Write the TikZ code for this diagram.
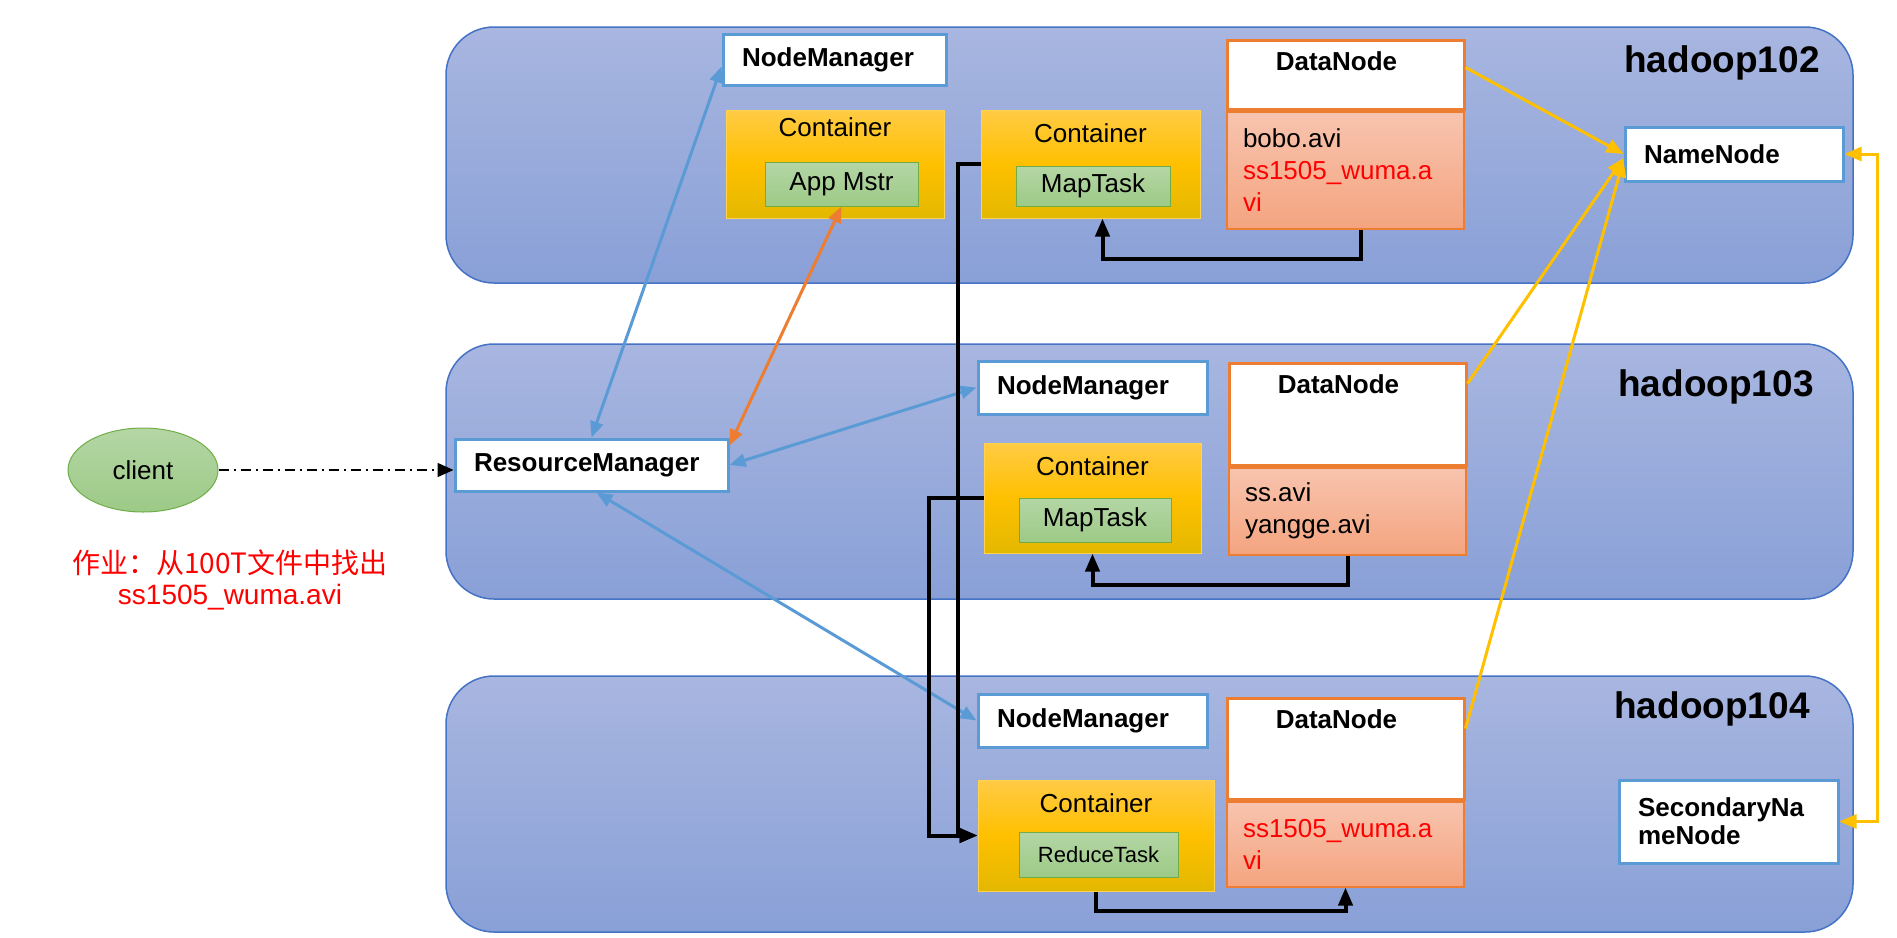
\documentclass[tikz,border=0pt]{standalone}
\usepackage{fontspec}
\setmainfont{Liberation Sans}
\newfontfamily\cjk{Noto Sans CJK SC}
\usepackage{xcolor}
\usetikzlibrary{arrows.meta,positioning,shapes.geometric}
\definecolor{hostline}{HTML}{4472C4}
\definecolor{hosttop}{HTML}{A8B6E0}
\definecolor{hostbot}{HTML}{89A0D7}
\definecolor{svcline}{HTML}{5B9BD5}
\definecolor{ctrtop}{HTML}{FFCB45}
\definecolor{ctrmid}{HTML}{FFC000}
\definecolor{ctrbot}{HTML}{E3B800}
\definecolor{ctrline}{HTML}{FFD34D}
\definecolor{tasktop}{HTML}{B4D6A5}
\definecolor{taskbot}{HTML}{9DCA87}
\definecolor{taskline}{HTML}{70AD47}
\definecolor{dnline}{HTML}{ED7D31}
\definecolor{filetop}{HTML}{F8C4AF}
\definecolor{filebot}{HTML}{F4A47F}
\definecolor{hdfs}{HTML}{FFC000}
\definecolor{amlink}{HTML}{ED7D31}
\definecolor{hit}{HTML}{FF0000}
\newcommand{\fsz}[2]{\fontsize{#1}{#2}\selectfont}

\begin{document}
\begin{tikzpicture}[x=1pt,y=-1pt,
  host/.style={draw=hostline,line width=1.5pt,rounded corners=48pt,
               top color=hosttop,bottom color=hostbot,minimum width=1407pt},
  hostname/.style={font=\fsz{37}{44}\bfseries},
  svc/.style={draw=svcline,line width=3pt,fill=white,inner xsep=19pt,
              align=left,font=\fsz{26}{28}\bfseries},
  ctr/.style={draw=ctrline,line width=1pt,top color=ctrtop,bottom color=ctrbot,
              middle color=ctrmid,
              label={[font=\fsz{26}{31},anchor=center,yshift=#1]north:Container}},
  ctr/.default=-24pt,
  task/.style={draw=taskline,line width=1pt,top color=tasktop,bottom color=taskbot,
               font=\fsz{26}{31}},
  dnhead/.style={draw=dnline,line width=3pt,fill=white,minimum width=237pt,
                 label={[font=\fsz{26}{31}\bfseries,anchor=center,xshift=-9pt,yshift=-23pt]north:DataNode}},
  files/.style={draw=dnline,line width=2pt,top color=filetop,bottom color=filebot,
                minimum width=237pt,text width=205pt,inner xsep=16pt,align=left,
                font=\fsz{26}{32}},
  bl/.style={{Triangle[length=16pt,width=13pt]}-{Triangle[length=16pt,width=13pt]},
             draw=svcline,line width=3pt},
  og/.style={{Triangle[length=16pt,width=13pt]}-{Triangle[length=16pt,width=13pt]},
             draw=amlink,line width=3pt},
  yl/.style={-{Triangle[length=17pt,width=14pt]},draw=hdfs,line width=3pt},
  flow/.style={-{Triangle[length=18pt,width=14pt]},draw=black,line width=4pt},
  call/.style={-{Triangle[length=16pt,width=14pt]},draw=black,line width=1.5pt,
               dash pattern=on 10pt off 5pt on 2pt off 5pt}
]
\useasboundingbox (0,0) rectangle (1897,937);

% three hosts
\node[host,minimum height=256pt] (h102) at (1149.5,155) {};
\node[host,minimum height=255pt] (h103) at (1149.5,471.5) {};
\node[host,minimum height=256pt] (h104) at (1149.5,804) {};
\node[hostname] (n102) at (1722,63) {hadoop102};
\node[hostname] (n103) at (1716,387) {hadoop103};
\node[hostname] (n104) at (1712,709) {hadoop104};

% hadoop102
\node[svc,text width=185pt,minimum height=51pt] (nm102) at (834.5,59.5) {NodeManager};
\node[ctr=-18pt,minimum width=218pt,minimum height=108pt] (c102a) at (835,164) {};
\node[task,minimum width=153pt,minimum height=44pt] (am) at (841.5,184) {App Mstr};
\node[ctr,minimum width=219pt,minimum height=108pt] (c102b) at (1090.5,164) {};
\node[task,minimum width=154pt,minimum height=40pt] (mt102) at (1093,186) {MapTask};
\node[dnhead,minimum height=69pt] (dn102) at (1345.5,74.5) {};
\node[files,minimum height=117pt,below=0pt of dn102] (f102)
  {bobo.avi\\ \textcolor{hit}{ss1505\_wuma.a}\\ \textcolor{hit}{vi}};
\node[svc,text width=180pt,minimum height=54pt] (nn) at (1734,154) {NameNode};

% hadoop103
\node[svc,text width=235pt,minimum height=52pt] (rm) at (591.5,465) {ResourceManager};
\node[svc,text width=191pt,minimum height=53pt] (nm103) at (1092.5,387.5) {NodeManager};
\node[ctr,minimum width=217pt,minimum height=110pt] (c103) at (1092.5,498) {};
\node[task,minimum width=152pt,minimum height=44pt] (mt103) at (1095,520) {MapTask};
\node[dnhead,minimum height=102pt] (dn103) at (1347.5,414) {};
\node[files,minimum height=87pt,below=0pt of dn103] (f103) {ss.avi\\ yangge.avi};

% hadoop104
\node[svc,text width=191pt,minimum height=53pt] (nm104) at (1092.5,720.5) {NodeManager};
\node[ctr,minimum width=236pt,minimum height=111pt] (c104) at (1096,835.5) {};
\node[task,minimum width=159pt,minimum height=45pt,font=\fsz{22}{26}] (rt104) at (1098.5,854.5) {ReduceTask};
\node[dnhead,minimum height=101pt] (dn104) at (1345.5,748.5) {};
\node[files,minimum height=85pt,below=0pt of dn104] (f104)
  {\textcolor{hit}{ss1505\_wuma.a}\\ \textcolor{hit}{vi}};
\node[svc,text width=181pt,minimum height=83pt] (snn) at (1728.5,821.5) {SecondaryNa\\meNode};

% client and job
\node[ellipse,draw=taskline,line width=1pt,top color=tasktop,bottom color=taskbot,
      minimum width=150pt,minimum height=84pt,font=\fsz{26}{31}] (client) at (143,470) {client};
\node[align=center,text=hit,font=\fsz{28}{31}] (job) at (230,579.5)
  {{\cjk 作业：从100T文件中找出}\\ss1505\_wuma.avi};

% yarn links
\draw[call] (client.east) -- (client.east -| rm.west);
\draw[bl] (rm.north) -- ([yshift=-7pt]nm102.west);
\draw[og] ([yshift=-8pt]rm.north east) -- (am.south);
\draw[bl] (rm.east) -- (nm103.west);
\draw[bl] ([xshift=5pt]rm.south) -- (nm104.west);

% data flow
\draw[flow] ([xshift=15pt]f102.south) -- ++(0,29) -| ([xshift=12pt]c102b.south);
\draw[flow] (c102b.west) -- ++(-23,0) |- (c104.west);
\draw[flow] (c103.west) -- ++(-55,0) |- (c104.west);
\draw[flow] (f103.south) -- ++(0,29) -| (c103.south);
\draw[flow] (c104.south) -- ++(0,19) -| (f104.south);

% hdfs links
\draw[yl] ([yshift=-29pt]dn102.north east) -- (nn.west);
\draw[yl] ([yshift=-22pt]dn103.north east) -- ([yshift=-4pt]nn.west);
\draw[yl] ([yshift=-32pt]dn104.north east) -- ([yshift=-6pt]nn.west);
\draw[yl,{Triangle[length=17pt,width=14pt]}-{Triangle[length=17pt,width=14pt]}]
  (nn.east) -- ++(33,0) |- (snn.east);
\end{tikzpicture}
\end{document}
